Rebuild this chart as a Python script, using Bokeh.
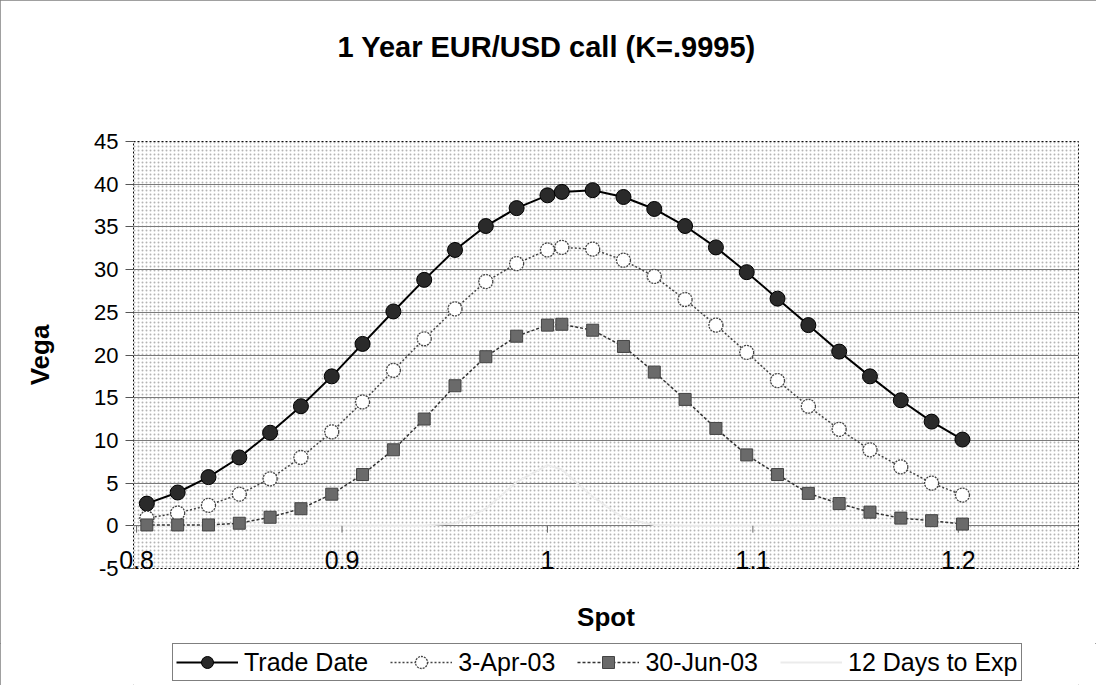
from bokeh.plotting import figure
from bokeh.layouts import column
from bokeh.models import (Range1d, FixedTicker, Legend, LegendItem, BoxAnnotation,
                          ColumnDataSource, Title)
from bokeh.embed import file_html
from bokeh.resources import INLINE

# ---- data ----
spot = [0.805, 0.820, 0.835, 0.850, 0.865, 0.880, 0.895, 0.910, 0.925, 0.940,
        0.955, 0.970, 0.985, 1.000, 1.007, 1.022, 1.037, 1.052, 1.067, 1.082,
        1.097, 1.112, 1.127, 1.142, 1.157, 1.172, 1.187, 1.202]
trade_date = [2.6, 3.9, 5.7, 8.0, 10.9, 14.0, 17.5, 21.3, 25.1, 28.8,
              32.3, 35.1, 37.2, 38.7, 39.1, 39.3, 38.5, 37.1, 35.1, 32.6,
              29.7, 26.6, 23.5, 20.4, 17.5, 14.7, 12.2, 10.1]
apr03 = [0.9, 1.5, 2.4, 3.7, 5.5, 8.0, 11.0, 14.5, 18.2, 21.9,
         25.4, 28.6, 30.7, 32.3, 32.6, 32.4, 31.1, 29.2, 26.5, 23.5,
         20.3, 17.0, 14.0, 11.3, 8.9, 6.9, 5.0, 3.6]
jun03 = [0.1, 0.1, 0.1, 0.3, 1.0, 2.0, 3.7, 6.0, 8.9, 12.5,
         16.4, 19.8, 22.2, 23.5, 23.6, 22.9, 21.0, 18.0, 14.8, 11.4,
         8.3, 6.0, 3.8, 2.6, 1.6, 0.9, 0.6, 0.2]
days12 = [0.0, 0.0, 0.0, 0.0, 0.0, 0.0, 0.0, 0.0, 0.0, 0.0,
          0.3, 2.0, 5.1, 7.1, 6.6, 3.4, 0.9, 0.1, 0.0, 0.0,
          0.0, 0.0, 0.0, 0.0, 0.0, 0.0, 0.0, 0.0]
series_names = ["Trade Date", "3-Apr-03", "30-Jun-03", "12 Days to Exp"]
x_ticks = [0.8, 0.9, 1.0, 1.1, 1.2]
x_tick_labels = ["0.8", "0.9", "1", "1.1", "1.2"]
y_ticks = [-5, 0, 5, 10, 15, 20, 25, 30, 35, 40, 45]
y_tick_labels = ["-5", "0", "5", "10", "15", "20", "25", "30", "35", "40", "45"]
title_text = "1 Year EUR/USD call (K=.9995)"

FONT = "Liberation Sans"

# styles of the four series (shared by plot and legend)
S1_LINE = dict(line_color="black", line_width=2)
S1_MARK = dict(marker="circle", size=15, fill_color="#2a2a2a", line_color="black", line_width=1)
S2_LINE = dict(line_color="#444", line_width=1.5, line_dash="2 2")
S2_MARK = dict(marker="circle", size=14, fill_color="white", line_color="#444",
               line_width=1.3, line_dash="2 1")
S3_LINE = dict(line_color="#333", line_width=1.5, line_dash="3 2")
S3_MARK = dict(marker="square", size=12, fill_color="#6a6a6a", line_color="#444", line_width=1)
S4_LINE = dict(line_color="#ebebeb", line_width=2)

p = figure(frame_width=945, frame_height=427,
           min_border_left=133, min_border_right=18,
           min_border_top=141, min_border_bottom=75,
           x_range=Range1d(0.7985, 1.2585), y_range=Range1d(-5, 45),
           output_backend="svg", toolbar_location=None)

# spacer (nearest the plot area) then the real title above it
p.add_layout(Title(text=" ", text_font_size="1px", standoff=76), "above")
p.add_layout(Title(text=title_text, text_font=FONT, text_font_size="29px",
                   text_font_style="bold", text_color="black", align="left",
                   offset=204, standoff=0), "above")

p.background_fill_color = "white"
p.border_fill_color = "white"
p.outline_line_color = "black"
p.outline_line_dash = "2 2"
p.outline_line_width = 1

# dotted pattern background
bg = BoxAnnotation(fill_color=None, line_color=None, hatch_pattern="dot",
                   hatch_color="#b4b4b4", hatch_scale=4, hatch_weight=1, level="image")
p.add_layout(bg)

# grid
p.xgrid.visible = False
p.ygrid.ticker = FixedTicker(ticks=y_ticks)
p.ygrid.grid_line_color = "#7a7a7a"
p.ygrid.grid_line_width = 1

# y axis
p.yaxis.ticker = FixedTicker(ticks=y_ticks)
p.yaxis.major_label_overrides = dict(zip(y_ticks, y_tick_labels))
p.yaxis.axis_label = "Vega"
p.yaxis.axis_label_text_font = FONT
p.yaxis.axis_label_text_font_size = "26px"
p.yaxis.axis_label_text_font_style = "bold"
p.yaxis.axis_label_text_color = "black"
p.yaxis.axis_label_standoff = 36
p.yaxis.major_label_text_font = FONT
p.yaxis.major_label_text_font_size = "22px"
p.yaxis.major_label_text_color = "black"
p.yaxis.major_label_standoff = 7
p.yaxis.major_tick_out = 8
p.yaxis.major_tick_in = 0
p.yaxis.minor_tick_out = 0
p.yaxis.minor_tick_in = 0
p.yaxis.axis_line_color = None
p.yaxis.major_tick_line_color = "#555"

# x axis: tick labels pulled up inside the bottom of the plot area, as in the original
p.xaxis.ticker = FixedTicker(ticks=x_ticks)
p.xaxis.major_label_overrides = dict(zip(x_ticks, x_tick_labels))
p.xaxis.major_label_text_font = FONT
p.xaxis.major_label_text_font_size = "25px"
p.xaxis.major_label_text_color = "black"
p.xaxis.major_label_standoff = -18
p.xaxis.axis_label = "Spot"
p.xaxis.axis_label_text_font = FONT
p.xaxis.axis_label_text_font_size = "26px"
p.xaxis.axis_label_text_font_style = "bold"
p.xaxis.axis_label_text_color = "black"
p.xaxis.axis_label_standoff = 30
p.xaxis.major_tick_out = 0
p.xaxis.major_tick_in = 0
p.xaxis.minor_tick_out = 0
p.xaxis.minor_tick_in = 0
p.xaxis.axis_line_color = None

src = ColumnDataSource(dict(x=spot, td=trade_date, apr=apr03, jun=jun03, d12=days12))

# 12 days series: pale line that hides the gridlines it lies on
p.line("x", "d12", source=src, **S4_LINE)

# x-axis tick marks where the axis crosses at 0
tick_src = ColumnDataSource(dict(x=x_ticks, y0=[0] * len(x_ticks), y1=[-0.8] * len(x_ticks)))
p.segment(x0="x", y0="y0", x1="x", y1="y1", source=tick_src, line_color="#666", line_width=1)

p.line("x", "td", source=src, **S1_LINE)
p.scatter("x", "td", source=src, **S1_MARK)
p.line("x", "apr", source=src, **S2_LINE)
p.scatter("x", "apr", source=src, **S2_MARK)
p.line("x", "jun", source=src, **S3_LINE)
p.scatter("x", "jun", source=src, **S3_MARK)

# ---- legend strip below the chart (same series; ranges keep them out of view) ----
leg = figure(width=1096, height=42, x_range=Range1d(5, 6), y_range=Range1d(100, 101),
             x_axis_location=None, y_axis_location=None, min_border=0,
             output_backend="svg", toolbar_location=None)
leg.grid.visible = False
leg.outline_line_color = None
leg.background_fill_color = "white"
leg.border_fill_color = "white"
l1 = leg.line("x", "td", source=src, **S1_LINE)
m1 = leg.scatter("x", "td", source=src, **S1_MARK)
l2 = leg.line("x", "apr", source=src, **S2_LINE)
m2 = leg.scatter("x", "apr", source=src, **S2_MARK)
l3 = leg.line("x", "jun", source=src, **S3_LINE)
m3 = leg.scatter("x", "jun", source=src, **S3_MARK)
l4 = leg.line("x", "d12", source=src, **S4_LINE)

legend = Legend(items=[
    LegendItem(label=series_names[0], renderers=[l1, m1]),
    LegendItem(label=series_names[1], renderers=[l2, m2]),
    LegendItem(label=series_names[2], renderers=[l3, m3]),
    LegendItem(label=series_names[3], renderers=[l4]),
], orientation="horizontal", location=(39, 4))
legend.label_text_font = FONT
legend.label_text_font_size = "25px"
legend.label_text_color = "black"
legend.label_height = 24
legend.glyph_width = 62
legend.glyph_height = 30
legend.label_standoff = 6
legend.spacing = 22
legend.padding = 3
legend.margin = 0
legend.border_line_color = "black"
legend.border_line_width = 1
legend.background_fill_color = "white"
legend.background_fill_alpha = 1
leg.add_layout(legend, "center")

layout = column(p, leg, spacing=0)
layout.styles = {"outline": "1px solid #808080", "outline-offset": "-1px"}

open("out.html", "w").write(file_html(layout, INLINE))
